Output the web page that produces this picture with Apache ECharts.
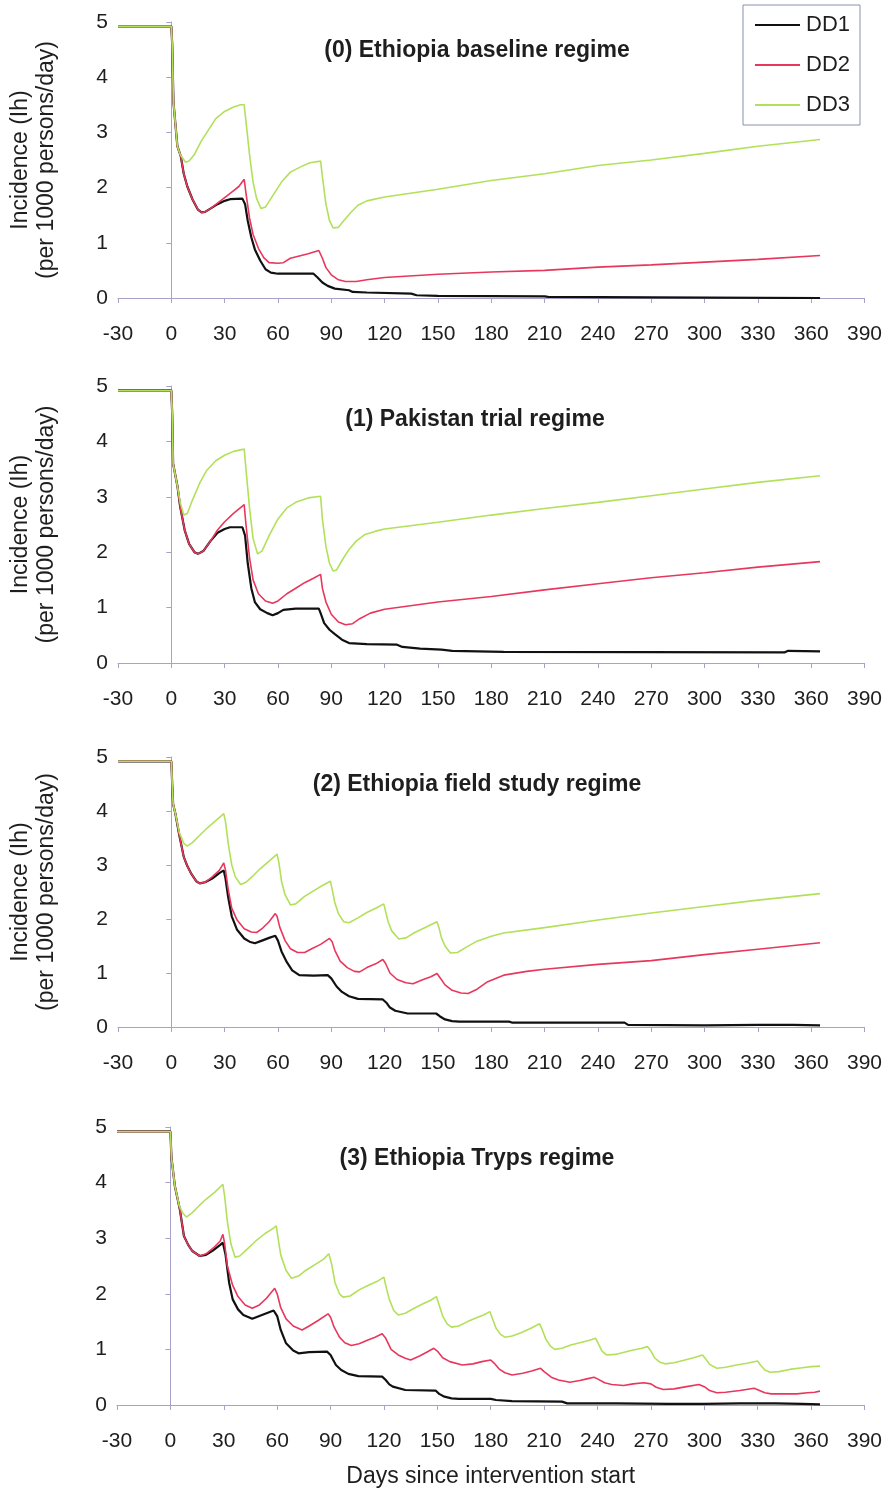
<!DOCTYPE html>
<html>
<head>
<meta charset="utf-8">
<script src="https://cdn.jsdelivr.net/npm/echarts@6/dist/echarts.min.js"></script>
<style>
html,body{margin:0;padding:0;background:#fff;}
#chart{width:885px;height:1493px;}
</style>
</head>
<body>
<div id="chart"></div>
<script>
// ---- Data (days since start, incidence per 1000 persons/day) ----
const seriesNames = ['DD1', 'DD2', 'DD3'];
const panelTitles = ['(0) Ethiopia baseline regime', '(1) Pakistan trial regime', '(2) Ethiopia field study regime', '(3) Ethiopia Tryps regime'];
const xTicks = [-30, 0, 30, 60, 90, 120, 150, 180, 210, 240, 270, 300, 330, 360, 390];
const yTicks = [0, 1, 2, 3, 4, 5];

// Panel 0: Ethiopia baseline
const p0_dd1 = [[-30,4.92],[0,4.92],[0.5,4.6],[1.2,3.55],[3.4,2.75],[5.3,2.57],[7,2.25],[9,2.02],[12,1.78],[15,1.6],[17,1.55],[19,1.56],[22,1.62],[26,1.7],[30,1.76],[33,1.79],[40,1.8],[41.5,1.7],[43,1.4],[45,1.1],[47,0.88],[50,0.68],[53,0.52],[56,0.46],[60,0.44],[80,0.44],[82,0.38],[85,0.28],[88,0.22],[92,0.17],[100,0.14],[102,0.11],[110,0.1],[135,0.08],[138,0.05],[150,0.04],[210,0.03],[212,0.02],[270,0.01],[365,0.0]];
const p0_dd2 = [[-30,4.92],[0,4.92],[0.5,4.6],[1.2,3.55],[3.4,2.75],[5.3,2.57],[7,2.25],[9,2.02],[12,1.78],[15,1.6],[17,1.55],[19,1.56],[22,1.62],[26,1.72],[30,1.82],[34,1.92],[38,2.02],[41,2.15],[42,1.9],[44,1.45],[46,1.15],[49,0.9],[52,0.73],[55,0.64],[60,0.63],[63,0.64],[67,0.72],[72,0.76],[77,0.8],[83,0.86],[85,0.72],[87,0.55],[90,0.42],[94,0.33],[98,0.3],[104,0.3],[110,0.33],[120,0.37],[150,0.43],[180,0.47],[210,0.5],[240,0.56],[270,0.6],[300,0.65],[330,0.7],[365,0.77]];
const p0_dd3 = [[-30,4.92],[0,4.92],[0.5,4.6],[1.2,3.55],[3.4,2.75],[5,2.6],[8,2.46],[10,2.48],[13,2.6],[17,2.85],[21,3.05],[25,3.25],[30,3.38],[35,3.46],[39,3.5],[41,3.5],[42,3.2],[44,2.6],[46,2.1],[48,1.8],[50.5,1.62],[53,1.65],[57,1.85],[62,2.1],[67,2.28],[73,2.38],[78,2.45],[84,2.48],[85,2.2],[87,1.7],[89,1.4],[91,1.27],[94,1.28],[97,1.4],[101,1.55],[105,1.68],[110,1.76],[120,1.83],[150,1.97],[180,2.13],[210,2.25],[240,2.4],[270,2.5],[300,2.62],[330,2.75],[365,2.87]];

// Panel 1: Pakistan trial
const p1_dd1 = [[-30,4.92],[0,4.92],[0.5,4.5],[1,3.6],[3.5,3.18],[5,2.82],[7.5,2.4],[10,2.15],[13,2.0],[15,1.97],[18,2.02],[22,2.2],[26,2.35],[30,2.42],[33,2.45],[40,2.45],[41.5,2.3],[43,1.8],[45,1.35],[47,1.1],[50,0.97],[54,0.9],[57,0.86],[60,0.9],[63,0.96],[70,0.98],[83,0.98],[84,0.9],[86,0.72],[89,0.6],[92,0.52],[96,0.42],[100,0.36],[110,0.34],[127,0.33],[130,0.29],[140,0.26],[152,0.24],[158,0.22],[187,0.2],[345,0.19],[347,0.22],[365,0.21]];
const p1_dd2 = [[-30,4.92],[0,4.92],[0.5,4.5],[1,3.6],[3.5,3.18],[5,2.82],[7.5,2.4],[10,2.15],[13,2.0],[15,1.97],[18,2.02],[22,2.2],[26,2.4],[30,2.55],[35,2.7],[41,2.86],[42,2.5],[44,1.9],[46,1.5],[49,1.25],[53,1.12],[57,1.08],[60,1.12],[65,1.25],[70,1.35],[75,1.45],[80,1.53],[84,1.6],[85,1.35],[87,1.1],[90,0.88],[94,0.74],[98,0.69],[102,0.71],[106,0.8],[112,0.9],[120,0.97],[150,1.1],[180,1.2],[210,1.32],[240,1.43],[270,1.54],[300,1.63],[330,1.73],[365,1.83]];
const p1_dd3 = [[-30,4.92],[0,4.92],[0.5,4.5],[1,3.6],[3.5,3.18],[5,2.9],[7,2.67],[9,2.7],[12,2.95],[16,3.25],[20,3.48],[25,3.65],[30,3.75],[35,3.82],[41,3.86],[42,3.5],[44,2.8],[46,2.25],[48.5,1.97],[51,2.02],[55,2.3],[60,2.6],[65,2.8],[70,2.9],[77,2.98],[84,3.01],[85,2.6],[87,2.1],[89,1.8],[91,1.66],[93,1.68],[96,1.85],[100,2.05],[104,2.2],[109,2.32],[115,2.38],[120,2.42],[150,2.54],[180,2.67],[210,2.79],[240,2.9],[270,3.02],[300,3.14],[330,3.26],[365,3.38]];

// Panel 2: Ethiopia field study
const p2_dd1 = [[-30,4.92],[0,4.92],[0.5,4.5],[1,4.13],[2.3,3.95],[4.5,3.55],[7,3.15],[9,2.98],[11,2.85],[14,2.7],[16,2.66],[19,2.68],[23,2.75],[27,2.85],[29.5,2.9],[30.5,2.75],[32,2.4],[34,2.05],[37,1.8],[41,1.64],[44,1.58],[47,1.55],[51,1.6],[55,1.65],[58.5,1.69],[60,1.6],[62,1.4],[65,1.2],[68,1.05],[72,0.96],[80,0.95],[88,0.96],[90,0.9],[93,0.75],[96,0.65],[100,0.57],[105,0.52],[119,0.51],[121,0.45],[123,0.36],[126,0.3],[133,0.25],[149,0.25],[151,0.2],[154,0.14],[158,0.11],[162,0.1],[190,0.1],[192,0.08],[255,0.08],[257,0.04],[300,0.03],[330,0.04],[350,0.04],[365,0.03]];
const p2_dd2 = [[-30,4.92],[0,4.92],[0.5,4.5],[1,4.13],[2.3,3.95],[4.5,3.55],[7,3.15],[9,2.98],[11,2.85],[14,2.7],[16,2.66],[19,2.68],[23,2.78],[27,2.9],[29.5,3.04],[30.5,2.9],[32,2.55],[34,2.2],[37,1.98],[41,1.82],[45,1.76],[48,1.75],[51,1.82],[55,1.95],[58.5,2.1],[59.5,2.05],[61,1.85],[64,1.6],[67,1.45],[71,1.38],[75,1.38],[79,1.45],[84,1.53],[89,1.64],[90.5,1.58],[92,1.42],[95,1.22],[99,1.1],[103,1.03],[106,1.02],[110,1.1],[115,1.17],[119,1.25],[120.5,1.18],[123,1.0],[127,0.88],[132,0.82],[136,0.8],[141,0.87],[146,0.93],[149.5,0.99],[151,0.92],[154,0.78],[158,0.68],[163,0.63],[167,0.62],[172,0.7],[178,0.84],[187,0.96],[200,1.03],[210,1.07],[240,1.16],[270,1.23],[300,1.34],[330,1.44],[365,1.56]];
const p2_dd3 = [[-30,4.92],[0,4.92],[0.5,4.5],[1,4.13],[2.3,3.95],[4.5,3.6],[7,3.4],[9,3.35],[12,3.42],[16,3.55],[20,3.68],[25,3.82],[29.5,3.95],[30.5,3.8],[32,3.4],[34,3.0],[36,2.78],[39,2.64],[42,2.68],[46,2.8],[50,2.93],[55,3.07],[59.5,3.2],[60.5,3.05],[62,2.7],[64,2.45],[67,2.26],[70,2.28],[75,2.42],[80,2.52],[85,2.62],[89.5,2.7],[90.5,2.55],[92,2.3],[94,2.1],[97,1.95],[100,1.93],[105,2.02],[110,2.12],[115,2.2],[119.5,2.28],[120.5,2.15],[122,1.95],[124,1.78],[128,1.63],[132,1.65],[137,1.75],[142,1.83],[149.5,1.95],[150.5,1.85],[152,1.65],[154,1.5],[157,1.37],[161,1.38],[166,1.48],[172,1.59],[180,1.68],[187,1.74],[210,1.84],[240,1.98],[270,2.11],[300,2.23],[330,2.35],[365,2.47]];

// Panel 3: Ethiopia Tryps
const p3_dd1 = [[-30,4.92],[0,4.92],[0.6,4.45],[2.5,3.94],[5.3,3.52],[7.6,3.04],[10,2.88],[12.3,2.77],[16.5,2.68],[20,2.7],[24,2.78],[28,2.88],[29.5,2.92],[31,2.7],[33,2.2],[35,1.9],[38,1.72],[41,1.62],[46,1.55],[50,1.6],[54,1.65],[58,1.7],[60,1.6],[62,1.35],[65,1.11],[69,0.98],[72,0.93],[78,0.95],[88,0.96],[90,0.9],[93,0.72],[96,0.63],[100,0.56],[105.6,0.52],[119,0.51],[121,0.45],[123,0.37],[125,0.33],[132,0.27],[149,0.26],[151,0.2],[154,0.15],[158,0.12],[162,0.11],[180,0.11],[183,0.09],[192,0.07],[220,0.06],[223,0.03],[250,0.03],[280,0.02],[300,0.02],[320,0.03],[340,0.03],[355,0.02],[365,0.01]];
const p3_dd2 = [[-30,4.92],[0,4.92],[0.6,4.45],[2.5,3.94],[5.3,3.52],[7.6,3.04],[10,2.88],[12.3,2.77],[16.5,2.68],[20,2.72],[24,2.82],[28,2.95],[29.5,3.07],[30.5,2.9],[32,2.5],[35,2.15],[38,1.95],[42,1.8],[46,1.74],[50,1.8],[54,1.92],[58.6,2.1],[60,2.0],[62,1.75],[65,1.55],[69,1.42],[74,1.35],[78,1.42],[83,1.52],[88.6,1.64],[90,1.58],[92,1.4],[95,1.22],[98,1.12],[101.7,1.07],[106,1.1],[111,1.17],[115,1.22],[119,1.28],[121,1.2],[124,1.0],[128,0.9],[132,0.84],[135,0.81],[140,0.88],[144,0.95],[148,1.02],[150,0.97],[153,0.85],[157,0.78],[164,0.72],[170,0.74],[175,0.78],[180,0.81],[182,0.75],[185,0.64],[188,0.58],[192,0.54],[198,0.57],[203,0.61],[208,0.66],[210,0.6],[214,0.5],[218,0.45],[224.5,0.41],[230,0.44],[234,0.47],[238,0.5],[240,0.47],[244,0.4],[248,0.37],[254.7,0.35],[260,0.38],[266,0.4],[270,0.38],[273,0.32],[277,0.28],[283,0.29],[290,0.33],[297,0.37],[300,0.33],[303,0.26],[307,0.22],[312,0.23],[320,0.26],[328,0.3],[331,0.26],[334,0.22],[337.6,0.2],[345,0.2],[352,0.2],[358,0.22],[362,0.23],[365,0.25]];
const p3_dd3 = [[-30,4.92],[0,4.92],[0.6,4.45],[2.5,3.94],[5,3.58],[7,3.45],[9,3.38],[12,3.45],[16,3.58],[20,3.7],[25,3.83],[29.5,3.97],[30.5,3.75],[32,3.3],[34,2.9],[36.3,2.66],[39,2.68],[43,2.8],[48,2.95],[53,3.08],[58,3.18],[59.5,3.22],[60.5,3.0],[62,2.7],[65,2.42],[68,2.28],[72,2.32],[76,2.42],[81,2.52],[86,2.62],[89,2.72],[90.5,2.55],[92.5,2.2],[95,2.0],[97,1.94],[101,1.96],[106,2.07],[111,2.15],[116,2.22],[120,2.3],[121,2.15],[123,1.9],[125.5,1.7],[128,1.62],[132,1.65],[137,1.74],[142,1.82],[146,1.88],[149.5,1.95],[151,1.8],[153,1.6],[155.5,1.46],[158,1.4],[162,1.42],[167,1.5],[172,1.57],[176,1.62],[179.5,1.68],[181,1.55],[183,1.38],[185.5,1.27],[188,1.22],[192,1.24],[197,1.3],[202,1.37],[207.5,1.46],[209,1.35],[211,1.18],[213.5,1.06],[216,1.0],[220,1.02],[225,1.08],[230,1.12],[235,1.16],[239,1.2],[240.5,1.1],[242.5,0.97],[245,0.9],[250,0.91],[255,0.95],[260,0.99],[265,1.02],[268,1.05],[270,0.97],[272,0.85],[275,0.77],[278,0.74],[283,0.76],[288,0.8],[294,0.85],[299,0.9],[301,0.82],[303,0.73],[307,0.66],[312,0.68],[318,0.72],[324,0.75],[330,0.79],[331.5,0.72],[334,0.63],[337,0.59],[342,0.6],[348,0.64],[355,0.67],[360,0.69],[365,0.7]];

const panels = [[p0_dd1, p0_dd2, p0_dd3], [p1_dd1, p1_dd2, p1_dd3], [p2_dd1, p2_dd2, p2_dd3], [p3_dd1, p3_dd2, p3_dd3]];

// ---- Layout / style ----
const FONT = 'Liberation Sans, Arial, Helvetica, sans-serif';
const AXIS_COLOR = '#a7a2c9';
const TEXT_COLOR = '#1e1e1e';
const COLORS = ['#111111', '#e8375d', '#b3e05a'];
const WIDTHS = [2.2, 1.6, 1.6];
const grids = [
  {left: 117, right: 20, top: 22, height: 276},
  {left: 117, right: 20, top: 386, height: 277},
  {left: 117, right: 20, top: 757, height: 270},
  {left: 117, right: 20, top: 1127, height: 278}
];
const titlePos = [[472, 34], [470, 403], [472, 768], [472, 1142]];

const option = {
  animation: false,
  backgroundColor: '#ffffff',
  textStyle: {fontFamily: FONT},
  title: panelTitles.map((t, i) => ({
    text: t, left: titlePos[i][0], top: titlePos[i][1], textAlign: 'center',
    textStyle: {fontFamily: FONT, fontSize: 23, fontWeight: 'bold', color: TEXT_COLOR}
  })),
  legend: {
    data: seriesNames.map((n, k) => ({name: n, icon: 'rect', itemStyle: {color: COLORS[k]}})),
    orient: 'vertical', left: 743, top: 5,
    padding: [9, 10, 9, 12], itemGap: 18, itemWidth: 45, itemHeight: 2,
    borderColor: '#8a90ad', borderWidth: 1,
    textStyle: {fontFamily: FONT, fontSize: 22, color: TEXT_COLOR, padding: [0, 0, 0, 1]}
  },
  grid: grids,
  xAxis: grids.map((g, i) => ({
    type: 'value', gridIndex: i, min: xTicks[0], max: xTicks[xTicks.length - 1], interval: 30,
    axisLine: {lineStyle: {color: AXIS_COLOR, width: 1}},
    axisTick: {show: true, length: 5, lineStyle: {color: AXIS_COLOR}},
    axisLabel: {fontFamily: FONT, fontSize: 21, color: TEXT_COLOR, margin: 26},
    splitLine: {show: false},
    name: i === 3 ? 'Days since intervention start' : '',
    nameLocation: 'middle', nameGap: 60,
    nameTextStyle: {fontFamily: FONT, fontSize: 23, color: TEXT_COLOR}
  })),
  yAxis: grids.map((g, i) => ({
    type: 'value', gridIndex: i, min: yTicks[0], max: yTicks[yTicks.length - 1], interval: 1,
    axisLine: {show: true, lineStyle: {color: AXIS_COLOR, width: 1}},
    axisTick: {show: true, length: 5, lineStyle: {color: AXIS_COLOR}},
    axisLabel: {fontFamily: FONT, fontSize: 21, color: TEXT_COLOR, margin: 10},
    splitLine: {show: false},
    name: i < 3 ? 'Incidence (Ih)\n(per 1000 persons/day)' : '',
    nameLocation: 'middle', nameRotate: 90, nameGap: 58,
    nameTextStyle: {fontFamily: FONT, fontSize: 23, color: TEXT_COLOR, lineHeight: 26}
  })),
  series: []
};

panels.forEach((p, i) => {
  p.forEach((data, k) => {
    option.series.push({
      name: seriesNames[k], type: 'line', xAxisIndex: i, yAxisIndex: i,
      data: data, symbol: 'none', showSymbol: false, smooth: false,
      lineStyle: {color: COLORS[k], width: WIDTHS[k]},
      itemStyle: {color: COLORS[k]},
      emphasis: {disabled: true}
    });
  });
});

const chart = echarts.init(document.getElementById('chart'), null, {renderer: 'canvas'});
chart.setOption(option);
</script>
</body>
</html>
